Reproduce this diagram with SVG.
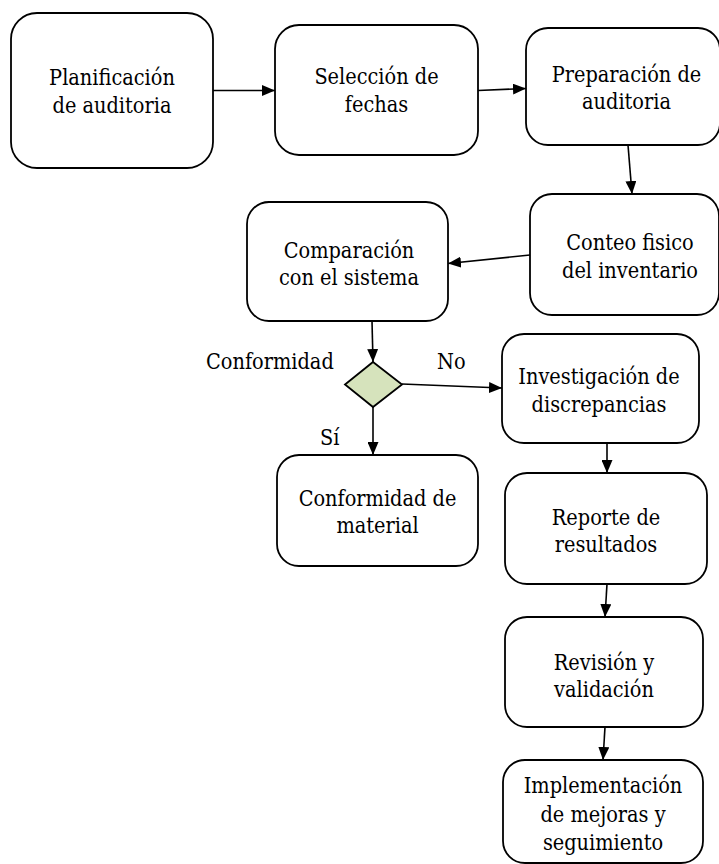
<svg xmlns="http://www.w3.org/2000/svg" width="719" height="864" viewBox="0 0 719 864">
<defs>
<style>
.box{fill:#fff;stroke:#000;stroke-width:1.8}
.t{font-size:21.5px;fill:#000;text-anchor:middle}
.l{font-size:21.5px;fill:#000}
.c{stroke:#000;stroke-width:1.6;fill:none;marker-end:url(#ah)}
</style>
<marker id="ah" markerUnits="userSpaceOnUse" markerWidth="13" markerHeight="11" refX="13" refY="5.5" orient="auto">
<path d="M0,0 L13,5.5 L0,11 z" fill="#000"/>
</marker>
</defs>
<rect width="719" height="864" fill="#fff"/>
<g id="connectors">
<line class="c" x1="213" y1="90.5" x2="275" y2="90.5"/>
<line class="c" x1="478" y1="90.5" x2="526" y2="88.5"/>
<line class="c" x1="628" y1="145" x2="632" y2="194"/>
<line class="c" x1="530" y1="255" x2="448" y2="263.5"/>
<line class="c" x1="372" y1="321" x2="373" y2="362"/>
<line class="c" x1="402" y1="384" x2="502" y2="388"/>
<line class="c" x1="373" y1="407" x2="373" y2="455"/>
<line class="c" x1="607" y1="443" x2="607" y2="473"/>
<line class="c" x1="607" y1="584" x2="605" y2="617"/>
<line class="c" x1="605" y1="727" x2="603" y2="760"/>
</g>
<g font-family="'DejaVu Serif Condensed', 'DejaVu Serif', serif" font-stretch="condensed">
<g id="n1"><rect class="box" x="11" y="13" width="202" height="155" rx="26"/><text class="t" x="112" y="85">Planificación</text><text class="t" x="112" y="113">de auditoria</text></g>
<g id="n2"><rect class="box" x="275" y="25" width="203" height="130" rx="24"/><text class="t" x="376.5" y="84">Selección de</text><text class="t" x="376.5" y="112">fechas</text></g>
<g id="n3"><rect class="box" x="526" y="28" width="194" height="117" rx="22"/><text class="t" x="626.5" y="82">Preparación de</text><text class="t" x="626.5" y="109">auditoria</text></g>
<g id="n4"><rect class="box" x="530" y="194" width="189" height="121" rx="22"/><text class="t" x="630" y="250">Conteo fisico</text><text class="t" x="630" y="278">del inventario</text></g>
<g id="n5"><rect class="box" x="247" y="202" width="201" height="119" rx="22"/><text class="t" x="349" y="258">Comparación</text><text class="t" x="349" y="285">con el sistema</text></g>
<g id="n6"><polygon points="373,362 402,384.5 373,407 345,384.5" fill="#d6e3bc" stroke="#000" stroke-width="1.8"/><text class="l" x="206" y="369">Conformidad</text><text class="l" x="437" y="369">No</text><text class="l" x="320" y="445">Sí</text></g>
<g id="n7"><rect class="box" x="502" y="334" width="197" height="109" rx="22"/><text class="t" x="599" y="384">Investigación de</text><text class="t" x="599" y="412">discrepancias</text></g>
<g id="n8"><rect class="box" x="277" y="455" width="201" height="111" rx="22"/><text class="t" x="377.5" y="506">Conformidad de</text><text class="t" x="377.5" y="533">material</text></g>
<g id="n9"><rect class="box" x="505" y="473" width="202" height="111" rx="22"/><text class="t" x="606" y="525">Reporte de</text><text class="t" x="606" y="552">resultados</text></g>
<g id="n10"><rect class="box" x="505" y="617" width="198" height="110" rx="22"/><text class="t" x="604" y="670">Revisión y</text><text class="t" x="604" y="697">validación</text></g>
<g id="n11"><rect class="box" x="503" y="760" width="200" height="103" rx="22"/><text class="t" x="603" y="793">Implementación</text><text class="t" x="603" y="822">de mejoras y</text><text class="t" x="603" y="850">seguimiento</text></g>
</g>
</svg>
